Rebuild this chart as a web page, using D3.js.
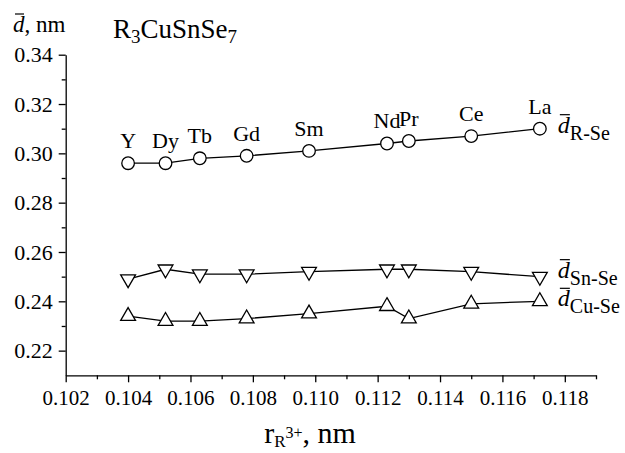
<!DOCTYPE html>
<html>
<head>
<meta charset="utf-8">
<script src="https://cdn.jsdelivr.net/npm/d3@7"></script>
<style>
  html, body { margin: 0; padding: 0; background: #fff; }
  svg { display: block; }
  svg text { font-family: "Liberation Serif", "Times New Roman", serif !important; fill: #000; }
</style>
</head>
<body>
<svg id="chart" width="625" height="453"></svg>
<script>
// ---- data ----
const elements = ["Y", "Dy", "Tb", "Gd", "Sm", "Nd", "Pr", "Ce", "La"];
const radii    = [0.1040, 0.1052, 0.1063, 0.1078, 0.1098, 0.1123, 0.1130, 0.1150, 0.1172];
const dRSe     = [0.296, 0.296, 0.298, 0.299, 0.301, 0.304, 0.305, 0.307, 0.310];
const dSnSe    = [0.249, 0.253, 0.251, 0.251, 0.252, 0.253, 0.253, 0.252, 0.250];
const dCuSe    = [0.234, 0.232, 0.232, 0.233, 0.235, 0.238, 0.233, 0.239, 0.240];
const xTickLabels = ["0.102","0.104","0.106","0.108","0.110","0.112","0.114","0.116","0.118"];
const yTickLabels = ["0.22","0.24","0.26","0.28","0.30","0.32","0.34"];
const seriesNames = ["R-Se", "Sn-Se", "Cu-Se"];

// ---- layout ----
const FONT = "'Liberation Serif', 'Times New Roman', serif";
const svg = d3.select("#chart");
const x = d3.scaleLinear().domain([0.102, 0.119]).range([65.7, 596]);
const y = d3.scaleLinear().domain([0.21, 0.34]).range([375.3, 54.7]);
const SW = 1.3;

const xMajor = xTickLabels.map(Number);
const xMinor = d3.range(0.103, 0.1195, 0.002).map(v => +v.toFixed(3));
const yMajor = yTickLabels.map(Number);
const yMinor = d3.range(0.23, 0.335, 0.02).map(v => +v.toFixed(2));

// x axis
const gx = svg.append("g").attr("transform", `translate(0,${y(0.21)})`);
gx.call(d3.axisBottom(x).tickValues(xMajor).tickFormat((d,i) => xTickLabels[i])
  .tickSize(7).tickSizeOuter(0).tickPadding(8));
gx.append("g").call(d3.axisBottom(x).tickValues(xMinor).tickFormat("").tickSize(4).tickSizeOuter(0))
  .select(".domain").remove();
gx.attr("font-family", null);
gx.selectAll("text").style("font-size", "21px").style("font-family", FONT).attr("fill", "#000");
gx.selectAll("path, line").attr("stroke", "#000").attr("stroke-width", SW);

// y axis
const gy = svg.append("g").attr("transform", `translate(${x(0.102)},0)`);
gy.call(d3.axisLeft(y).tickValues(yMajor).tickFormat((d,i) => yTickLabels[i])
  .tickSize(7).tickSizeOuter(0).tickPadding(6));
gy.append("g").call(d3.axisLeft(y).tickValues(yMinor).tickFormat("").tickSize(4).tickSizeOuter(0))
  .select(".domain").remove();
gy.attr("font-family", null);
gy.selectAll("text").style("font-size", "22px").style("font-family", FONT).attr("fill", "#000");
gy.selectAll("path, line").attr("stroke", "#000").attr("stroke-width", SW);

// ---- series ----
const line = d3.line().x(d => x(d[0])).y(d => y(d[1]));
const series = [dRSe, dSnSe, dCuSe];
const markers = ["circle", "down", "up"];
const triSize = 95;

series.forEach((vals, si) => {
  const pts = radii.map((r, i) => [r, vals[i]]);
  svg.append("path").datum(pts).attr("d", line)
    .attr("fill", "none").attr("stroke", "#000").attr("stroke-width", SW);
  const g = svg.append("g");
  pts.forEach(p => {
    if (markers[si] === "circle") {
      g.append("circle").attr("cx", x(p[0])).attr("cy", y(p[1])).attr("r", 6.3)
        .attr("fill", "#fff").attr("stroke", "#000").attr("stroke-width", SW);
    } else {
      g.append("path").attr("d", d3.symbol(d3.symbolTriangle, triSize)())
        .attr("transform", `translate(${x(p[0])},${y(p[1])})` + (markers[si] === "down" ? " rotate(180)" : ""))
        .attr("fill", "#fff").attr("stroke", "#000").attr("stroke-width", SW);
    }
  });
});

// element labels above R-Se points
elements.forEach((el, i) => {
  svg.append("text").attr("x", x(radii[i])).attr("y", y(dRSe[i]) - 15)
    .attr("text-anchor", "middle").style("font-size", "22px").text(el);
});

// series labels at right end
const labelDy = [4, 1, 5];
series.forEach((vals, si) => {
  const last = vals.length - 1;
  const lx = x(radii[last]) + 18;
  const ly = y(vals[last]) + labelDy[si];
  const t = svg.append("text").attr("x", lx).attr("y", ly).style("font-size", "24px");
  t.append("tspan").attr("font-style", "italic").text("d");
  t.append("tspan").style("font-size", "20px").attr("dy", 7).text(seriesNames[si]);
  svg.append("line").attr("x1", lx + 2).attr("x2", lx + 12)
    .attr("y1", ly - 18).attr("y2", ly - 18).attr("stroke", "#000").attr("stroke-width", 1.2);
});

// y axis title
const yt = svg.append("text").attr("x", 13).attr("y", 32).style("font-size", "23px");
yt.append("tspan").attr("font-style", "italic").text("d");
yt.append("tspan").text(", nm");
svg.append("line").attr("x1", 15).attr("x2", 24).attr("y1", 14).attr("y2", 14)
  .attr("stroke", "#000").attr("stroke-width", 1.2);

// chart title
const tt = svg.append("text").attr("x", 113).attr("y", 38).style("font-size", "27px");
tt.append("tspan").text("R");
tt.append("tspan").style("font-size", "19px").attr("dy", 5).text("3");
tt.append("tspan").attr("dy", -5).text("CuSnSe");
tt.append("tspan").style("font-size", "19px").attr("dy", 5).text("7");

// x axis title
const xt = svg.append("text").attr("x", 310).attr("y", 443).attr("text-anchor", "middle").style("font-size", "30px");
xt.append("tspan").text("r");
xt.append("tspan").style("font-size", "17px").attr("dy", 4).text("R");
xt.append("tspan").style("font-size", "16px").attr("dy", -9).text("3+");
xt.append("tspan").attr("dy", 5).text(", nm");
</script>
</body>
</html>
